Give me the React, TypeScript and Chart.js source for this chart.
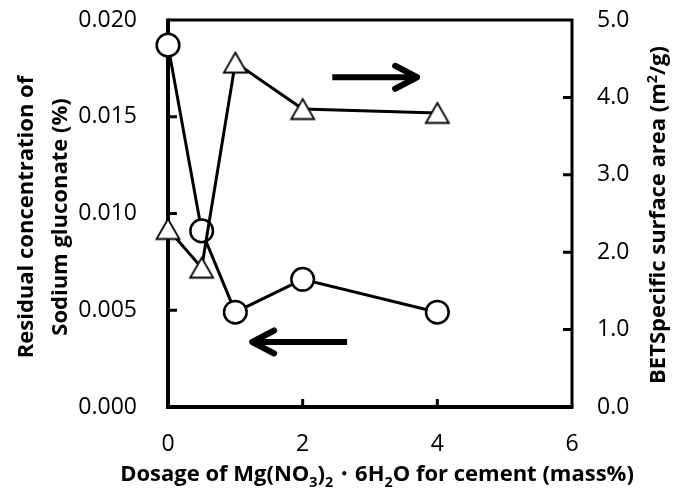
import React, { useEffect, useRef } from "react";
import { Chart, registerables } from "chart.js";

Chart.register(...registerables);

// ---- data ----
const dosage = [0, 0.5, 1, 2, 4];
const gluconate = [0.0187, 0.0091, 0.0049, 0.0066, 0.0049];
const betArea = [2.3, 1.8, 4.45, 3.85, 3.8];
const xTickValues = [0, 2, 4, 6];
const leftTickValues = [0, 0.005, 0.01, 0.015, 0.02];
const rightTickValues = [0, 1, 2, 3, 4, 5];

// annotation arrows (data coordinates)
const arrowRight = { x0: 2.44, x1: 3.7, y: 4.26, axis: "y2" };
const arrowLeft = { x0: 2.66, x1: 1.25, y: 0.00336, axis: "y" };

const leftTitle = ["Residual concentration of", "Sodium gluconate (%)"];
type Seg = [string, "n" | "sub" | "sup"];
const bottomTitle: Seg[] = [
  ["Dosage of Mg(NO", "n"],
  ["3", "sub"],
  [")", "n"],
  ["2", "sub"],
  ["・6H", "n"],
  ["2", "sub"],
  ["O for cement (mass%)", "n"],
];
const rightTitle: Seg[] = [
  ["BETSpecific surface area (m", "n"],
  ["2", "sup"],
  ["/g)", "n"],
];

const FONT = "'Open Sans', 'Noto Sans', sans-serif";
const TICK_SIZE = 23;
const TITLE_SIZE = 22;

function makeTriangle(): HTMLCanvasElement {
  const c = document.createElement("canvas");
  c.width = 28;
  c.height = 25;
  const g = c.getContext("2d")!;
  g.beginPath();
  g.moveTo(14, 2.5);
  g.lineTo(25.5, 22.5);
  g.lineTo(2.5, 22.5);
  g.closePath();
  g.fillStyle = "#fff";
  g.fill();
  g.lineWidth = 1.8;
  g.strokeStyle = "#000";
  g.lineJoin = "miter";
  g.stroke();
  return c;
}

function segWidth(ctx: CanvasRenderingContext2D, segs: Seg[], size: number) {
  let w = 0;
  for (const [t, m] of segs) {
    const s = m === "n" ? size : size * 0.65;
    ctx.font = `bold ${s}px ${FONT}`;
    w += ctx.measureText(t).width;
  }
  return w;
}

function drawRich(ctx: CanvasRenderingContext2D, segs: Seg[], cx: number, baseY: number, size: number) {
  const total = segWidth(ctx, segs, size);
  let x = cx - total / 2;
  ctx.textAlign = "left";
  ctx.textBaseline = "alphabetic";
  for (const [t, m] of segs) {
    const s = m === "n" ? size : size * 0.65;
    ctx.font = `bold ${s}px ${FONT}`;
    const dy = m === "sub" ? size * 0.28 : m === "sup" ? -size * 0.38 : 0;
    ctx.fillText(t, x, baseY + dy);
    x += ctx.measureText(t).width;
  }
}

const framePlugin = {
  id: "frame",
  beforeDatasetsDraw(chart: any) {
    const { ctx, chartArea, scales } = chart;
    const { left, right, top, bottom } = chartArea;
    ctx.save();
    ctx.strokeStyle = "#000";
    ctx.lineCap = "butt";
    ctx.lineWidth = 3;
    ctx.beginPath();
    ctx.moveTo(left, top);
    ctx.lineTo(right, top);
    ctx.lineTo(right, bottom);
    ctx.stroke();
    ctx.lineWidth = 4;
    ctx.beginPath();
    ctx.moveTo(left, top - 1.5);
    ctx.lineTo(left, bottom);
    ctx.lineTo(right + 1.5, bottom);
    ctx.stroke();
    ctx.lineWidth = 3;
    ctx.beginPath();
    for (const v of leftTickValues) {
      if (v <= leftTickValues[0] || v >= leftTickValues[leftTickValues.length - 1]) continue;
      const y = scales.y.getPixelForValue(v);
      ctx.moveTo(left, y);
      ctx.lineTo(left + 9, y);
    }
    for (const v of rightTickValues) {
      if (v <= rightTickValues[0] || v >= rightTickValues[rightTickValues.length - 1]) continue;
      const y = scales.y2.getPixelForValue(v);
      ctx.moveTo(right, y);
      ctx.lineTo(right - 9, y);
    }
    for (const v of xTickValues) {
      if (v <= xTickValues[0] || v >= xTickValues[xTickValues.length - 1]) continue;
      const x = scales.x.getPixelForValue(v);
      ctx.moveTo(x, bottom);
      ctx.lineTo(x, bottom - 8);
    }
    ctx.stroke();
    ctx.restore();
  },
  afterDatasetsDraw(chart: any) {
    const { ctx, scales } = chart;
    ctx.save();
    ctx.strokeStyle = "#000";
    ctx.lineWidth = 6;
    for (const a of [arrowRight, arrowLeft]) {
      const x0 = scales.x.getPixelForValue(a.x0);
      const x1 = scales.x.getPixelForValue(a.x1);
      const y = scales[a.axis].getPixelForValue(a.y);
      const dir = Math.sign(x1 - x0);
      ctx.lineCap = "butt";
      ctx.beginPath();
      ctx.moveTo(x0, y);
      ctx.lineTo(x1 - dir * 2, y);
      ctx.stroke();
      ctx.lineCap = "round";
      ctx.lineJoin = "round";
      ctx.beginPath();
      ctx.moveTo(x1 - dir * 22, y - 11.5);
      ctx.lineTo(x1, y);
      ctx.lineTo(x1 - dir * 22, y + 11.5);
      ctx.stroke();
    }
    ctx.restore();
  },
  afterDraw(chart: any) {
    const { ctx } = chart;
    ctx.save();
    ctx.fillStyle = "#000";
    // bottom title
    drawRich(ctx, bottomTitle, 377, 481, TITLE_SIZE);
    // left title (two lines, rotated)
    ctx.font = `bold ${TITLE_SIZE}px ${FONT}`;
    ctx.textAlign = "center";
    ctx.textBaseline = "alphabetic";
    const baseXs = [33, 67];
    leftTitle.forEach((line, i) => {
      ctx.save();
      ctx.translate(baseXs[i], 217);
      ctx.rotate(-Math.PI / 2);
      ctx.fillText(line, 0, 0);
      ctx.restore();
    });
    // right title
    ctx.save();
    ctx.translate(665, 215);
    ctx.rotate(-Math.PI / 2);
    drawRich(ctx, rightTitle, 0, 0, TITLE_SIZE);
    ctx.restore();
    ctx.restore();
  },
};

export default function App() {
  const ref = useRef<HTMLCanvasElement | null>(null);
  useEffect(() => {
    const canvas = ref.current;
    if (!canvas) return;
    const tri = makeTriangle();
    const tickFont = { family: FONT, size: TICK_SIZE };
    const chart = new Chart(canvas, {
      type: "scatter",
      data: {
        datasets: [
          {
            label: "BET",
            data: dosage.map((x, i) => ({ x, y: betArea[i] })),
            yAxisID: "y2",
            showLine: true,
            clip: false,
            borderColor: "#000",
            borderWidth: 3,
            pointStyle: tri as any,
            pointRadius: 12,
            pointBackgroundColor: "#fff",
            pointBorderColor: "#000",
            order: 0,
          },
          {
            label: "Gluconate",
            data: dosage.map((x, i) => ({ x, y: gluconate[i] })),
            yAxisID: "y",
            showLine: true,
            clip: false,
            borderColor: "#000",
            borderWidth: 3,
            pointStyle: "circle",
            pointRadius: 11.3,
            pointBorderWidth: 2.5,
            pointBackgroundColor: "#fff",
            pointBorderColor: "#000",
            order: 1,
          },
        ],
      },
      options: {
        responsive: false,
        animation: false,
        devicePixelRatio: 1,
        layout: { padding: { top: 20, left: 0, right: 0, bottom: 0 } },
        plugins: { legend: { display: false }, tooltip: { enabled: false } },
        scales: {
          x: {
            type: "linear",
            min: xTickValues[0],
            max: xTickValues[xTickValues.length - 1],
            afterBuildTicks: (s: any) => {
              s.ticks = xTickValues.map((v) => ({ value: v }));
            },
            ticks: { font: tickFont, color: "#000", padding: 0, callback: (v: any) => String(v) },
            grid: { display: false, drawTicks: true, tickLength: 24 },
            border: { display: false },
            afterFit: (s: any) => {
              s.height = 83;
            },
          },
          y: {
            type: "linear",
            position: "left",
            min: leftTickValues[0],
            max: leftTickValues[leftTickValues.length - 1],
            afterBuildTicks: (s: any) => {
              s.ticks = leftTickValues.map((v) => ({ value: v }));
            },
            ticks: { font: tickFont, color: "#000", padding: 0, callback: (v: any) => Number(v).toFixed(3) },
            grid: { display: false, drawTicks: true, tickLength: 31 },
            border: { display: false },
            afterFit: (s: any) => {
              s.width = 168;
            },
          },
          y2: {
            type: "linear",
            position: "right",
            min: rightTickValues[0],
            max: rightTickValues[rightTickValues.length - 1],
            afterBuildTicks: (s: any) => {
              s.ticks = rightTickValues.map((v) => ({ value: v }));
            },
            ticks: { font: tickFont, color: "#000", padding: 0, callback: (v: any) => Number(v).toFixed(1) },
            grid: { display: false, drawTicks: true, tickLength: 25 },
            border: { display: false },
            afterFit: (s: any) => {
              s.width = 108;
            },
          },
        },
      },
      plugins: [framePlugin],
    });
    return () => chart.destroy();
  }, []);
  return (
    <div style={{ position: "absolute", left: 0, top: 0, width: 680, height: 490, background: "#fff" }}>
      <canvas ref={ref} width={680} height={490} />
    </div>
  );
}
